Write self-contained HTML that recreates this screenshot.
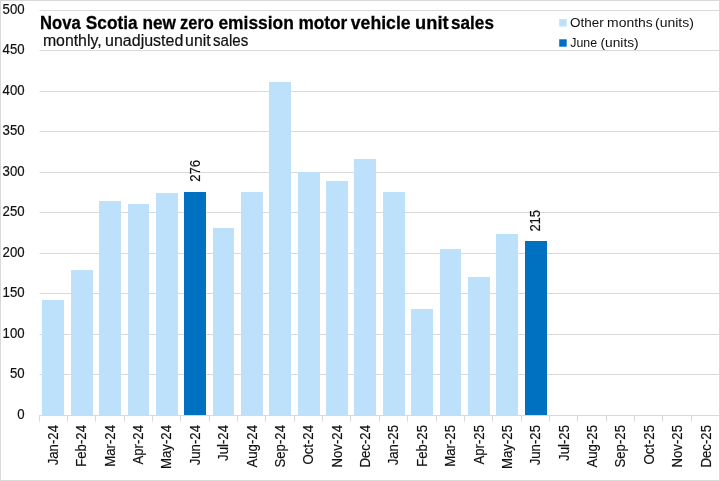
<!DOCTYPE html>
<html lang="en"><head><meta charset="utf-8"><title>Nova Scotia new zero emission motor vehicle unit sales</title>
<style>html,body{margin:0;padding:0;background:#fff}svg{display:block;will-change:transform}</style></head>
<body>
<svg width="720" height="481" viewBox="0 0 720 481" font-family='"Liberation Sans", sans-serif' fill="#111">
<rect x="0" y="0" width="720" height="481" fill="#fff"/>
<line x1="39.5" x2="720" y1="374.5" y2="374.5" stroke="#D9D9D9" stroke-width="1"/>
<line x1="39.5" x2="720" y1="334.5" y2="334.5" stroke="#D9D9D9" stroke-width="1"/>
<line x1="39.5" x2="720" y1="293.5" y2="293.5" stroke="#D9D9D9" stroke-width="1"/>
<line x1="39.5" x2="720" y1="253.5" y2="253.5" stroke="#D9D9D9" stroke-width="1"/>
<line x1="39.5" x2="720" y1="212.5" y2="212.5" stroke="#D9D9D9" stroke-width="1"/>
<line x1="39.5" x2="720" y1="172.5" y2="172.5" stroke="#D9D9D9" stroke-width="1"/>
<line x1="39.5" x2="720" y1="131.5" y2="131.5" stroke="#D9D9D9" stroke-width="1"/>
<line x1="39.5" x2="720" y1="91.5" y2="91.5" stroke="#D9D9D9" stroke-width="1"/>
<line x1="39.5" x2="720" y1="50.5" y2="50.5" stroke="#D9D9D9" stroke-width="1"/>
<line x1="39.5" x2="720" y1="10.5" y2="10.5" stroke="#D9D9D9" stroke-width="1"/>
<text transform="translate(24.6,418.80) scale(1,1.13)" font-size="13.2" text-anchor="end" stroke="#111" stroke-width="0.18">0</text>
<text transform="translate(24.6,377.80) scale(1,1.13)" font-size="13.2" text-anchor="end" stroke="#111" stroke-width="0.18">50</text>
<text transform="translate(24.6,337.80) scale(1,1.13)" font-size="13.2" text-anchor="end" stroke="#111" stroke-width="0.18">100</text>
<text transform="translate(24.6,296.80) scale(1,1.13)" font-size="13.2" text-anchor="end" stroke="#111" stroke-width="0.18">150</text>
<text transform="translate(24.6,256.80) scale(1,1.13)" font-size="13.2" text-anchor="end" stroke="#111" stroke-width="0.18">200</text>
<text transform="translate(24.6,215.80) scale(1,1.13)" font-size="13.2" text-anchor="end" stroke="#111" stroke-width="0.18">250</text>
<text transform="translate(24.6,175.80) scale(1,1.13)" font-size="13.2" text-anchor="end" stroke="#111" stroke-width="0.18">300</text>
<text transform="translate(24.6,134.80) scale(1,1.13)" font-size="13.2" text-anchor="end" stroke="#111" stroke-width="0.18">350</text>
<text transform="translate(24.6,94.80) scale(1,1.13)" font-size="13.2" text-anchor="end" stroke="#111" stroke-width="0.18">400</text>
<text transform="translate(24.6,53.80) scale(1,1.13)" font-size="13.2" text-anchor="end" stroke="#111" stroke-width="0.18">450</text>
<text transform="translate(24.6,13.80) scale(1,1.13)" font-size="13.2" text-anchor="end" stroke="#111" stroke-width="0.18">500</text>
<rect x="42" y="300" width="22" height="115" fill="#BDE1FB"/>
<rect x="71" y="270" width="22" height="145" fill="#BDE1FB"/>
<rect x="99" y="201" width="22" height="214" fill="#BDE1FB"/>
<rect x="128" y="204" width="21" height="211" fill="#BDE1FB"/>
<rect x="156" y="193" width="22" height="222" fill="#BDE1FB"/>
<rect x="184" y="192" width="22" height="223" fill="#0070C0"/>
<text transform="translate(200.00,181.80) rotate(-90) scale(1,1.08)" font-size="13.0" stroke="#111" stroke-width="0.15">276</text>
<rect x="213" y="228" width="21" height="187" fill="#BDE1FB"/>
<rect x="241" y="192" width="22" height="223" fill="#BDE1FB"/>
<rect x="269" y="82" width="22" height="333" fill="#BDE1FB"/>
<rect x="298" y="172" width="22" height="243" fill="#BDE1FB"/>
<rect x="326" y="181" width="22" height="234" fill="#BDE1FB"/>
<rect x="354" y="159" width="22" height="256" fill="#BDE1FB"/>
<rect x="383" y="192" width="22" height="223" fill="#BDE1FB"/>
<rect x="411" y="309" width="22" height="106" fill="#BDE1FB"/>
<rect x="440" y="249" width="21" height="166" fill="#BDE1FB"/>
<rect x="468" y="277" width="22" height="138" fill="#BDE1FB"/>
<rect x="496" y="234" width="22" height="181" fill="#BDE1FB"/>
<rect x="525" y="241" width="22" height="174" fill="#0070C0"/>
<text transform="translate(540.20,231.60) rotate(-90) scale(1,1.08)" font-size="13.0" stroke="#111" stroke-width="0.15">215</text>
<line x1="39.0" x2="720" y1="415.5" y2="415.5" stroke="#D9D9D9" stroke-width="1"/>
<line x1="39.5" x2="39.5" y1="415.5" y2="421.5" stroke="#D9D9D9" stroke-width="1"/>
<line x1="67.5" x2="67.5" y1="415.5" y2="421.5" stroke="#D9D9D9" stroke-width="1"/>
<line x1="95.5" x2="95.5" y1="415.5" y2="421.5" stroke="#D9D9D9" stroke-width="1"/>
<line x1="124.5" x2="124.5" y1="415.5" y2="421.5" stroke="#D9D9D9" stroke-width="1"/>
<line x1="152.5" x2="152.5" y1="415.5" y2="421.5" stroke="#D9D9D9" stroke-width="1"/>
<line x1="180.5" x2="180.5" y1="415.5" y2="421.5" stroke="#D9D9D9" stroke-width="1"/>
<line x1="209.5" x2="209.5" y1="415.5" y2="421.5" stroke="#D9D9D9" stroke-width="1"/>
<line x1="237.5" x2="237.5" y1="415.5" y2="421.5" stroke="#D9D9D9" stroke-width="1"/>
<line x1="265.5" x2="265.5" y1="415.5" y2="421.5" stroke="#D9D9D9" stroke-width="1"/>
<line x1="294.5" x2="294.5" y1="415.5" y2="421.5" stroke="#D9D9D9" stroke-width="1"/>
<line x1="322.5" x2="322.5" y1="415.5" y2="421.5" stroke="#D9D9D9" stroke-width="1"/>
<line x1="350.5" x2="350.5" y1="415.5" y2="421.5" stroke="#D9D9D9" stroke-width="1"/>
<line x1="379.5" x2="379.5" y1="415.5" y2="421.5" stroke="#D9D9D9" stroke-width="1"/>
<line x1="407.5" x2="407.5" y1="415.5" y2="421.5" stroke="#D9D9D9" stroke-width="1"/>
<line x1="436.5" x2="436.5" y1="415.5" y2="421.5" stroke="#D9D9D9" stroke-width="1"/>
<line x1="464.5" x2="464.5" y1="415.5" y2="421.5" stroke="#D9D9D9" stroke-width="1"/>
<line x1="492.5" x2="492.5" y1="415.5" y2="421.5" stroke="#D9D9D9" stroke-width="1"/>
<line x1="521.5" x2="521.5" y1="415.5" y2="421.5" stroke="#D9D9D9" stroke-width="1"/>
<line x1="549.5" x2="549.5" y1="415.5" y2="421.5" stroke="#D9D9D9" stroke-width="1"/>
<line x1="577.5" x2="577.5" y1="415.5" y2="421.5" stroke="#D9D9D9" stroke-width="1"/>
<line x1="606.5" x2="606.5" y1="415.5" y2="421.5" stroke="#D9D9D9" stroke-width="1"/>
<line x1="634.5" x2="634.5" y1="415.5" y2="421.5" stroke="#D9D9D9" stroke-width="1"/>
<line x1="662.5" x2="662.5" y1="415.5" y2="421.5" stroke="#D9D9D9" stroke-width="1"/>
<line x1="691.5" x2="691.5" y1="415.5" y2="421.5" stroke="#D9D9D9" stroke-width="1"/>
<line x1="719.5" x2="719.5" y1="415.5" y2="421.5" stroke="#D9D9D9" stroke-width="1"/>
<text transform="translate(58.00,425) rotate(-90) scale(1,1.06)" font-size="13.2" text-anchor="end" stroke="#111" stroke-width="0.15">Jan-24</text>
<text transform="translate(86.37,425) rotate(-90) scale(1,1.06)" font-size="13.2" text-anchor="end" stroke="#111" stroke-width="0.15">Feb-24</text>
<text transform="translate(114.74,425) rotate(-90) scale(1,1.06)" font-size="13.2" text-anchor="end" stroke="#111" stroke-width="0.15">Mar-24</text>
<text transform="translate(143.11,425) rotate(-90) scale(1,1.06)" font-size="13.2" text-anchor="end" stroke="#111" stroke-width="0.15">Apr-24</text>
<text transform="translate(171.48,425) rotate(-90) scale(1,1.06)" font-size="13.2" text-anchor="end" stroke="#111" stroke-width="0.15">May-24</text>
<text transform="translate(199.85,425) rotate(-90) scale(1,1.06)" font-size="13.2" text-anchor="end" stroke="#111" stroke-width="0.15">Jun-24</text>
<text transform="translate(228.22,425) rotate(-90) scale(1,1.06)" font-size="13.2" text-anchor="end" stroke="#111" stroke-width="0.15">Jul-24</text>
<text transform="translate(256.59,425) rotate(-90) scale(1,1.06)" font-size="13.2" text-anchor="end" stroke="#111" stroke-width="0.15">Aug-24</text>
<text transform="translate(284.96,425) rotate(-90) scale(1,1.06)" font-size="13.2" text-anchor="end" stroke="#111" stroke-width="0.15">Sep-24</text>
<text transform="translate(313.33,425) rotate(-90) scale(1,1.06)" font-size="13.2" text-anchor="end" stroke="#111" stroke-width="0.15">Oct-24</text>
<text transform="translate(341.70,425) rotate(-90) scale(1,1.06)" font-size="13.2" text-anchor="end" stroke="#111" stroke-width="0.15">Nov-24</text>
<text transform="translate(370.07,425) rotate(-90) scale(1,1.06)" font-size="13.2" text-anchor="end" stroke="#111" stroke-width="0.15">Dec-24</text>
<text transform="translate(398.44,425) rotate(-90) scale(1,1.06)" font-size="13.2" text-anchor="end" stroke="#111" stroke-width="0.15">Jan-25</text>
<text transform="translate(426.81,425) rotate(-90) scale(1,1.06)" font-size="13.2" text-anchor="end" stroke="#111" stroke-width="0.15">Feb-25</text>
<text transform="translate(455.18,425) rotate(-90) scale(1,1.06)" font-size="13.2" text-anchor="end" stroke="#111" stroke-width="0.15">Mar-25</text>
<text transform="translate(483.55,425) rotate(-90) scale(1,1.06)" font-size="13.2" text-anchor="end" stroke="#111" stroke-width="0.15">Apr-25</text>
<text transform="translate(511.92,425) rotate(-90) scale(1,1.06)" font-size="13.2" text-anchor="end" stroke="#111" stroke-width="0.15">May-25</text>
<text transform="translate(540.29,425) rotate(-90) scale(1,1.06)" font-size="13.2" text-anchor="end" stroke="#111" stroke-width="0.15">Jun-25</text>
<text transform="translate(568.66,425) rotate(-90) scale(1,1.06)" font-size="13.2" text-anchor="end" stroke="#111" stroke-width="0.15">Jul-25</text>
<text transform="translate(597.03,425) rotate(-90) scale(1,1.06)" font-size="13.2" text-anchor="end" stroke="#111" stroke-width="0.15">Aug-25</text>
<text transform="translate(625.40,425) rotate(-90) scale(1,1.06)" font-size="13.2" text-anchor="end" stroke="#111" stroke-width="0.15">Sep-25</text>
<text transform="translate(653.77,425) rotate(-90) scale(1,1.06)" font-size="13.2" text-anchor="end" stroke="#111" stroke-width="0.15">Oct-25</text>
<text transform="translate(682.14,425) rotate(-90) scale(1,1.06)" font-size="13.2" text-anchor="end" stroke="#111" stroke-width="0.15">Nov-25</text>
<text transform="translate(710.51,425) rotate(-90) scale(1,1.06)" font-size="13.2" text-anchor="end" stroke="#111" stroke-width="0.15">Dec-25</text>
<text transform="translate(40.10,28.6) scale(1,1.1)" font-size="16.5" font-weight="bold" fill="#000" stroke="#000" stroke-width="0.25" textLength="40.50" lengthAdjust="spacingAndGlyphs">Nova</text>
<text transform="translate(85.80,28.6) scale(1,1.1)" font-size="16.5" font-weight="bold" fill="#000" stroke="#000" stroke-width="0.25" textLength="51.80" lengthAdjust="spacingAndGlyphs">Scotia</text>
<text transform="translate(142.40,28.6) scale(1,1.1)" font-size="16.5" font-weight="bold" fill="#000" stroke="#000" stroke-width="0.25" textLength="33.50" lengthAdjust="spacingAndGlyphs">new</text>
<text transform="translate(180.10,28.6) scale(1,1.1)" font-size="16.5" font-weight="bold" fill="#000" stroke="#000" stroke-width="0.25" textLength="33.80" lengthAdjust="spacingAndGlyphs">zero</text>
<text transform="translate(218.40,28.6) scale(1,1.1)" font-size="16.5" font-weight="bold" fill="#000" stroke="#000" stroke-width="0.25" textLength="75.50" lengthAdjust="spacingAndGlyphs">emission</text>
<text transform="translate(298.40,28.6) scale(1,1.1)" font-size="16.5" font-weight="bold" fill="#000" stroke="#000" stroke-width="0.25" textLength="48.90" lengthAdjust="spacingAndGlyphs">motor</text>
<text transform="translate(350.80,28.6) scale(1,1.1)" font-size="16.5" font-weight="bold" fill="#000" stroke="#000" stroke-width="0.25" textLength="59.80" lengthAdjust="spacingAndGlyphs">vehicle</text>
<text transform="translate(415.10,28.6) scale(1,1.1)" font-size="16.5" font-weight="bold" fill="#000" stroke="#000" stroke-width="0.25" textLength="33.50" lengthAdjust="spacingAndGlyphs">unit</text>
<text transform="translate(451.10,28.6) scale(1,1.1)" font-size="16.5" font-weight="bold" fill="#000" stroke="#000" stroke-width="0.25" textLength="42.80" lengthAdjust="spacingAndGlyphs">sales</text>
<text transform="translate(42.90,45.8) scale(1,1.04)" font-size="15" fill="#111" stroke="#111" stroke-width="0.2" textLength="58.70" lengthAdjust="spacingAndGlyphs">monthly,</text>
<text transform="translate(105.10,45.8) scale(1,1.04)" font-size="15" fill="#111" stroke="#111" stroke-width="0.2" textLength="78.20" lengthAdjust="spacingAndGlyphs">unadjusted</text>
<text transform="translate(185.10,45.8) scale(1,1.04)" font-size="15" fill="#111" stroke="#111" stroke-width="0.2" textLength="25.50" lengthAdjust="spacingAndGlyphs">unit</text>
<text transform="translate(213.00,45.8) scale(1,1.04)" font-size="15" fill="#111" stroke="#111" stroke-width="0.2" textLength="35.30" lengthAdjust="spacingAndGlyphs">sales</text>
<rect x="559.2" y="19.1" width="7.5" height="7.4" fill="#BDE1FB"/>
<text transform="translate(570.00,27.1) scale(1,1.0)" font-size="13.3" fill="#111" textLength="33.70" lengthAdjust="spacingAndGlyphs">Other</text>
<text transform="translate(607.10,27.1) scale(1,1.0)" font-size="13.3" fill="#111" textLength="45.60" lengthAdjust="spacingAndGlyphs">months</text>
<text transform="translate(655.00,27.1) scale(1,1.0)" font-size="13.3" fill="#111" textLength="38.90" lengthAdjust="spacingAndGlyphs">(units)</text>
<rect x="559.2" y="39.3" width="7.5" height="7.4" fill="#0070C0"/>
<text transform="translate(570.20,47.1) scale(1,1.0)" font-size="13.3" fill="#111" textLength="26.85" lengthAdjust="spacingAndGlyphs">June</text>
<text transform="translate(600.40,47.1) scale(1,1.0)" font-size="13.3" fill="#111" textLength="38.30" lengthAdjust="spacingAndGlyphs">(units)</text>
<rect x="0.5" y="0.5" width="719" height="480" fill="none" stroke="#D9D9D9" stroke-width="1"/>
</svg>
</body></html>
